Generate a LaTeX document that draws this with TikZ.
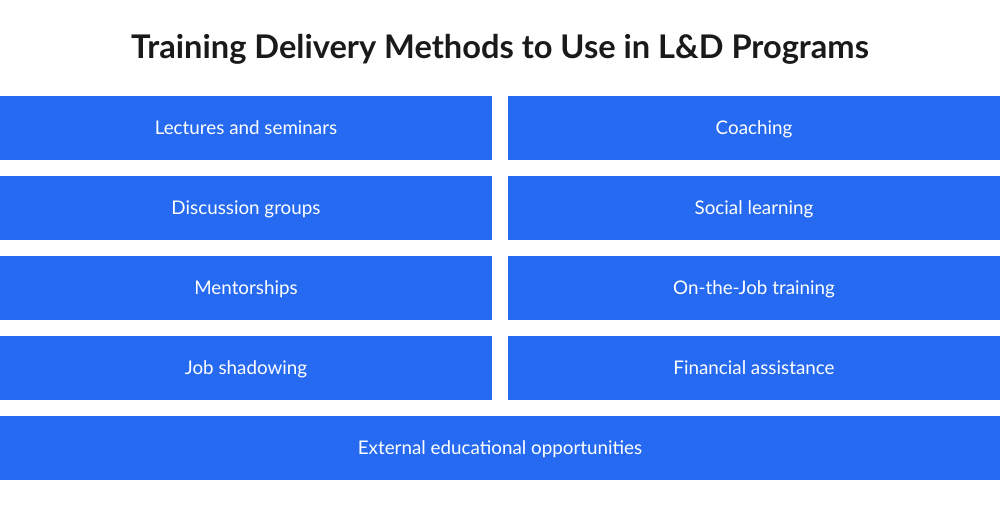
\documentclass[tikz,border=0pt]{standalone}
\usepackage{fontspec}
\setmainfont{Lato}
\usepackage{tikz}
\usetikzlibrary{positioning}
\definecolor{methodblue}{RGB}{37,106,240}
\definecolor{titleink}{RGB}{26,26,26}
\tikzset{
  method/.style={
    rectangle, fill=methodblue, draw=none,
    minimum width=492pt, minimum height=64pt,
    text height=13pt, text depth=0pt,
    font=\fontsize{18.8}{22}\selectfont, text=white,
    inner sep=0pt
  },
  heading/.style={
    font=\fontsize{32.6}{38}\selectfont\bfseries, text=titleink,
    inner sep=0pt, anchor=base
  }
}

\begin{document}
\begin{tikzpicture}[x=1pt, y=1pt, node distance=80pt and 508pt, on grid]
  \useasboundingbox (0,0) rectangle (1000,-512);

  % title
  \node[heading] (title) at (500,-58) {Training Delivery Methods to Use in L\&D Programs};

  % left column
  \node[method] (lectures) at (246,-128) {Lectures and seminars};
  \node[method, below=of lectures]   (discussion) {Discussion groups};
  \node[method, below=of discussion] (mentor)     {Mentorships};
  \node[method, below=of mentor]     (shadow)     {Job shadowing};

  % right column
  \node[method, right=of lectures]   (coaching)  {Coaching};
  \node[method, right=of discussion] (social)    {Social learning};
  \node[method, right=of mentor]     (onjob)     {On-the-Job training};
  \node[method, right=of shadow]     (financial) {Financial assistance};

  % full-width row
  \node[method, minimum width=1000pt] (external) at (500,-448) {External educational opportunities};
\end{tikzpicture}
\end{document}
